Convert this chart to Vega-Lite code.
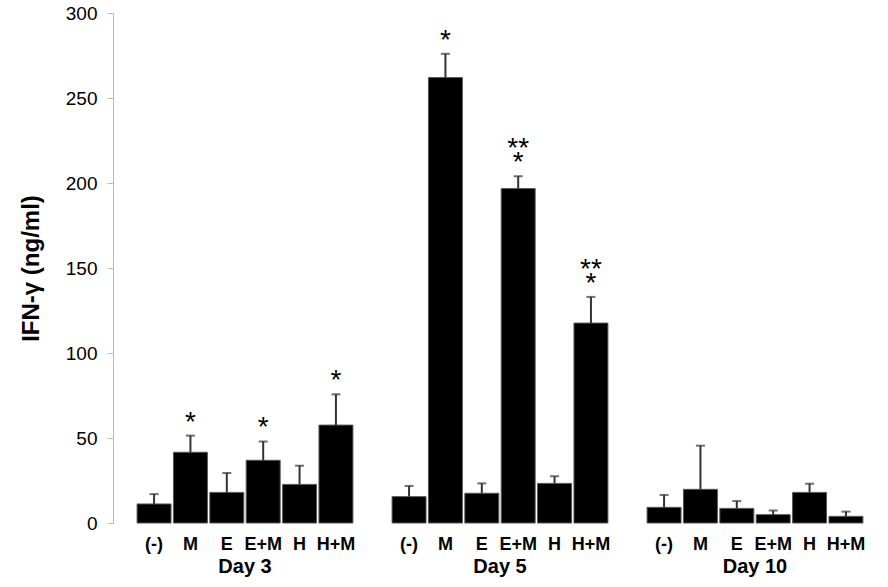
{
  "$schema": "https://vega.github.io/schema/vega-lite/v6.json",
  "padding": {"left": 19, "top": 4, "right": 0, "bottom": 0},
  "background": "white",
  "data": {"values": [
    {"day": "Day 3", "trt": "(-)", "value": 11.2, "hi": 17.0, "sig": "", "sig2": ""},
    {"day": "Day 3", "trt": "M", "value": 41.6, "hi": 51.4, "sig": "*", "sig2": ""},
    {"day": "Day 3", "trt": "E", "value": 18.0, "hi": 29.4, "sig": "", "sig2": ""},
    {"day": "Day 3", "trt": "E+M", "value": 36.9, "hi": 48.0, "sig": "*", "sig2": ""},
    {"day": "Day 3", "trt": "H", "value": 22.7, "hi": 33.7, "sig": "", "sig2": ""},
    {"day": "Day 3", "trt": "H+M", "value": 57.6, "hi": 75.7, "sig": "*", "sig2": ""},
    {"day": "Day 5", "trt": "(-)", "value": 15.5, "hi": 21.8, "sig": "", "sig2": ""},
    {"day": "Day 5", "trt": "M", "value": 262.0, "hi": 276.0, "sig": "*", "sig2": ""},
    {"day": "Day 5", "trt": "E", "value": 17.5, "hi": 23.3, "sig": "", "sig2": ""},
    {"day": "Day 5", "trt": "E+M", "value": 196.7, "hi": 204.0, "sig": "*", "sig2": "**"},
    {"day": "Day 5", "trt": "H", "value": 23.3, "hi": 27.5, "sig": "", "sig2": ""},
    {"day": "Day 5", "trt": "H+M", "value": 117.6, "hi": 133.0, "sig": "*", "sig2": "**"},
    {"day": "Day 10", "trt": "(-)", "value": 9.2, "hi": 16.5, "sig": "", "sig2": ""},
    {"day": "Day 10", "trt": "M", "value": 19.8, "hi": 45.5, "sig": "", "sig2": ""},
    {"day": "Day 10", "trt": "E", "value": 8.6, "hi": 12.9, "sig": "", "sig2": ""},
    {"day": "Day 10", "trt": "E+M", "value": 4.9, "hi": 7.3, "sig": "", "sig2": ""},
    {"day": "Day 10", "trt": "H", "value": 18.0, "hi": 23.1, "sig": "", "sig2": ""},
    {"day": "Day 10", "trt": "H+M", "value": 3.9, "hi": 6.7, "sig": "", "sig2": ""}
  ]},
  "facet": {
    "column": {
      "field": "day", "type": "nominal",
      "sort": ["Day 3", "Day 5", "Day 10"],
      "title": null,
      "header": {"labelOrient": "bottom", "labelFont": "Liberation Sans", "labelFontSize": 20, "labelFontWeight": "bold", "labelColor": "black", "labelPadding": 4}
    }
  },
  "spacing": 37,
  "spec": {
    "width": 218,
    "height": 510,
    "encoding": {
      "x": {
        "field": "trt", "type": "nominal",
        "sort": ["(-)", "M", "E", "E+M", "H", "H+M"],
        "scale": {"paddingInner": 0.067, "paddingOuter": 0.03},
        "axis": {"title": null, "domain": false, "ticks": false, "labelAngle": 0, "labelFont": "Liberation Sans", "labelFontSize": 18, "labelFontWeight": "bold", "labelColor": "black", "labelPadding": 11}
      }
    },
    "layer": [
      {
        "mark": {"type": "bar", "color": "black", "stroke": "#555", "strokeWidth": 1},
        "encoding": {
          "y": {
            "field": "value", "type": "quantitative",
            "scale": {"domain": [0, 300], "nice": false},
            "title": "IFN-γ (ng/ml)",
            "axis": {"values": [0, 50, 100, 150, 200, 250, 300], "grid": false, "offset": 23, "domainColor": "#bbbbbb", "tickColor": "#bbbbbb", "tickSize": 6, "labelFont": "Liberation Sans", "labelFontSize": 19, "labelColor": "black", "labelPadding": 10, "titleFont": "Liberation Sans", "titleFontSize": 24, "titleFontWeight": "bold", "titleColor": "black", "titlePadding": 22}
          }
        }
      },
      {
        "mark": {"type": "rule", "color": "#333333", "strokeWidth": 2},
        "encoding": {
          "y": {"field": "value", "type": "quantitative"},
          "y2": {"field": "hi"}
        }
      },
      {
        "mark": {"type": "tick", "orient": "horizontal", "color": "#333333", "size": 9, "thickness": 2},
        "encoding": {
          "y": {"field": "hi", "type": "quantitative"}
        }
      },
      {
        "mark": {"type": "text", "font": "Liberation Sans", "fontSize": 28, "baseline": "bottom", "dy": 1, "color": "black"},
        "encoding": {
          "y": {"field": "hi", "type": "quantitative"},
          "text": {"field": "sig"}
        }
      },
      {
        "mark": {"type": "text", "font": "Liberation Sans", "fontSize": 28, "baseline": "bottom", "dy": -13, "color": "black"},
        "encoding": {
          "y": {"field": "hi", "type": "quantitative"},
          "text": {"field": "sig2"}
        }
      }
    ]
  },
  "config": {"view": {"stroke": null}, "font": "Liberation Sans"}
}
